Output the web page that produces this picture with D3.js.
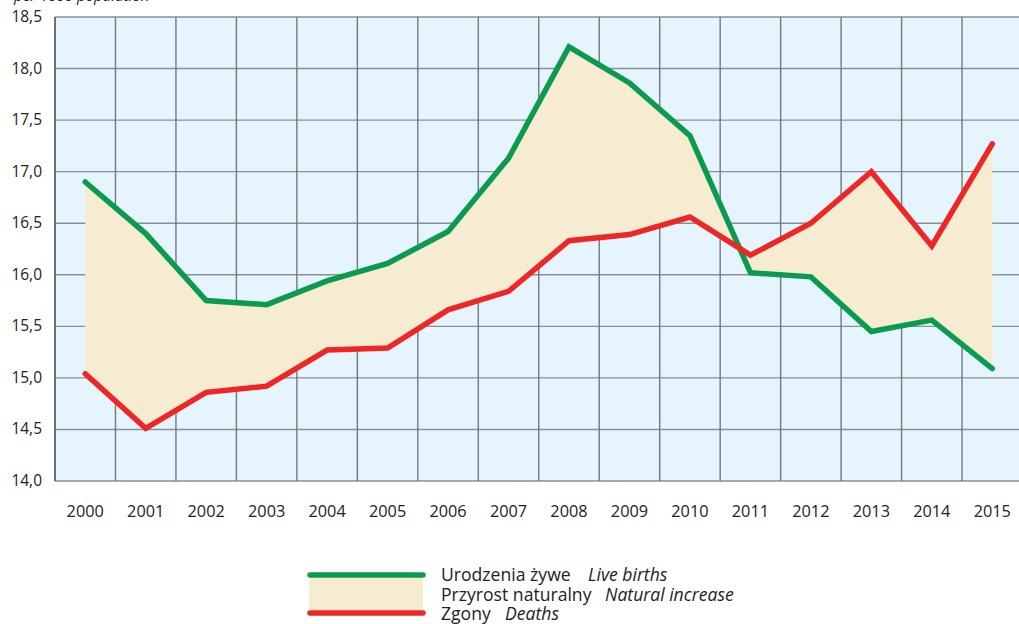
<!DOCTYPE html>
<html>
<head>
<meta charset="utf-8">
<script src="https://cdn.jsdelivr.net/npm/d3@7"></script>
<style>
  body { margin: 0; background: #fff; }
  svg { display: block; font-family: "Open Sans", "Noto Sans", sans-serif; }
</style>
</head>
<body>
<svg id="chart" width="1019" height="624"></svg>
<script>
// lata
const years = ["2000","2001","2002","2003","2004","2005","2006","2007","2008","2009","2010","2011","2012","2013","2014","2015"];
// urodzenia zywe na 1000 ludnosci
const births = [16.90,16.40,15.75,15.71,15.94,16.11,16.42,17.13,18.21,17.86,17.35,16.02,15.98,15.45,15.56,15.09];
// zgony na 1000 ludnosci
const deaths = [15.04,14.51,14.86,14.92,15.27,15.29,15.66,15.84,16.33,16.39,16.56,16.19,16.50,17.00,16.28,17.27];
const yTicks = [14.0,14.5,15.0,15.5,16.0,16.5,17.0,17.5,18.0,18.5];

const svg = d3.select("#chart");

const plotLeft = 55, plotTop = 17, plotBottom = 481;
const bandW = 60.47;

const x = d3.scaleBand()
  .domain(years)
  .range([plotLeft, plotLeft + bandW * years.length]);

const y = d3.scaleLinear()
  .domain([14, 18.5])
  .range([plotBottom, plotTop]);

const fmt = d => d.toFixed(1).replace(".", ",");
const cx = d => x(d) + x.bandwidth() / 2;

// tlo
svg.append("rect")
  .attr("x", plotLeft).attr("y", plotTop)
  .attr("width", x.range()[1] - plotLeft).attr("height", plotBottom - plotTop)
  .attr("fill", "#e6f5fd");

// siatka
svg.append("g")
  .selectAll("line")
  .data(yTicks)
  .join("line")
  .attr("x1", plotLeft).attr("x2", x.range()[1])
  .attr("y1", d => y(d)).attr("y2", d => y(d))
  .attr("stroke", "#8a8f94").attr("stroke-width", 1.4);

svg.append("g")
  .selectAll("line")
  .data(years)
  .join("line")
  .attr("x1", d => x(d)).attr("x2", d => x(d))
  .attr("y1", plotTop).attr("y2", plotBottom)
  .attr("stroke", "#74787c").attr("stroke-width", 1.4);

// przyrost naturalny - pole miedzy liniami
const rows = years.map((yr, i) => ({ yr, b: births[i], d: deaths[i] }));

svg.append("path")
  .datum(rows)
  .attr("fill", "#f5ecd2")
  .attr("d", d3.area().x(d => cx(d.yr)).y0(d => y(d.d)).y1(d => y(d.b)));

const line = key => d3.line().x(d => cx(d.yr)).y(d => y(d[key]));

svg.append("path")
  .datum(rows)
  .attr("fill", "none")
  .attr("stroke", "#0b9b50")
  .attr("stroke-width", 5.5)
  .attr("stroke-linejoin", "miter")
  .attr("stroke-linecap", "round")
  .attr("d", line("b"));

svg.append("path")
  .datum(rows)
  .attr("fill", "none")
  .attr("stroke", "#ee2626")
  .attr("stroke-width", 5.5)
  .attr("stroke-linejoin", "miter")
  .attr("stroke-linecap", "round")
  .attr("d", line("d"));

// osie
svg.append("line")
  .attr("x1", plotLeft).attr("x2", plotLeft).attr("y1", plotTop).attr("y2", plotBottom)
  .attr("stroke", "#5f6366").attr("stroke-width", 1.5);

svg.append("g")
  .selectAll("text")
  .data(yTicks)
  .join("text")
  .attr("x", 42)
  .attr("y", d => y(d) + 5)
  .attr("text-anchor", "end")
  .attr("font-size", 15.5)
  .attr("fill", "#222")
  .text(fmt);

svg.append("g")
  .selectAll("text")
  .data(years)
  .join("text")
  .attr("x", cx)
  .attr("y", 517)
  .attr("text-anchor", "middle")
  .attr("font-size", 16.3)
  .attr("fill", "#222")
  .text(d => d);

// jednostka (uciete u gory)
svg.append("text")
  .attr("x", 14).attr("y", 1)
  .attr("font-size", 15)
  .attr("font-style", "italic")
  .attr("fill", "#222")
  .text("per 1000 population");

// LEGENDA
const lg = svg.append("g");
lg.append("rect")
  .attr("x", 309).attr("y", 575).attr("width", 114).attr("height", 38)
  .attr("fill", "#f5ecd2");
lg.append("line")
  .attr("x1", 310).attr("x2", 423).attr("y1", 575).attr("y2", 575)
  .attr("stroke", "#0b9b50").attr("stroke-width", 5.5).attr("stroke-linecap", "round");
lg.append("line")
  .attr("x1", 310).attr("x2", 423).attr("y1", 613).attr("y2", 613)
  .attr("stroke", "#ee2626").attr("stroke-width", 5.5).attr("stroke-linecap", "round");

// [polski, angielski, y, x angielskiego]
const legendItems = [
  ["Urodzenia żywe", "Live births", 581, 588],
  ["Przyrost naturalny", "Natural increase", 601, 605],
  ["Zgony", "Deaths", 620, 505]
];

legendItems.forEach(([pl, en, yy, ex]) => {
  const t = lg.append("text")
    .attr("y", yy)
    .attr("font-size", 17.6)
    .attr("fill", "#222");
  t.append("tspan").attr("x", 441).text(pl);
  t.append("tspan").attr("x", ex).attr("font-style", "italic").text(en);
});
</script>
</body>
</html>
